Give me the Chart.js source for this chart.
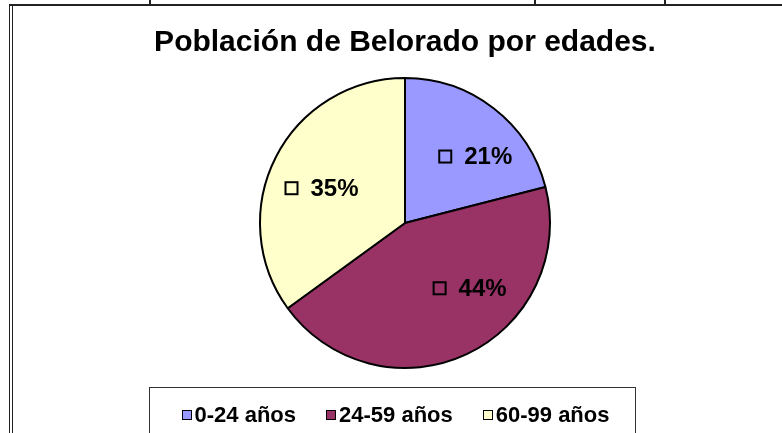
<!DOCTYPE html>
<html>
<head>
<meta charset="utf-8">
<script src="https://cdn.jsdelivr.net/npm/chart.js@4"></script>
<style>
  html, body { margin:0; padding:0; background:#fff; }
  #page { position:relative; width:782px; height:433px; overflow:hidden; font-family:"Liberation Sans", Arial, sans-serif; }
  #chart { position:absolute; left:0; top:0; }
  .edge { position:absolute; background:#222; }
  #legend-box {
    position:absolute; left:149px; top:387px; width:487px; height:70px;
    border:1px solid #333; box-sizing:border-box;
    display:flex; justify-content:center; align-items:flex-start; gap:30px;
    padding-top:16px; padding-left:6px;
  }
  .leg-item { display:flex; align-items:center; font-weight:bold; font-size:22px; color:#000; line-height:22px; }
  .leg-key { width:8px; height:8px; border:1.5px solid #000; margin-right:3px; }
</style>
</head>
<body>
<div id="page">
  <canvas id="chart" width="782" height="433"></canvas>
  <!-- bordes recortados de la hoja -->
  <div class="edge" style="left:9px; top:4px; width:1px; height:429px;"></div>
  <div class="edge" style="left:12px; top:6px; width:1px; height:427px;"></div>
  <div class="edge" style="left:9px; top:4px; width:773px; height:2px;"></div>
  <div class="edge" style="left:149px; top:0; width:2px; height:5px;"></div>
  <div class="edge" style="left:534px; top:0; width:2px; height:5px;"></div>
  <div class="edge" style="left:664px; top:0; width:2px; height:5px;"></div>
  <div id="legend-box"></div>
</div>
<script>
// ====================== DATOS ======================
const categories = ['0-24 años', '24-59 años', '60-99 años'];
const percentages = [21, 44, 35];
const sliceColors = ['#9999FF', '#993366', '#FFFFCC'];
const chartTitle = 'Población de Belorado por edades.';

// ====================== ETIQUETAS DENTRO DE LA TARTA ======================
const pieLabels = {
  id:'pieLabels',
  afterDatasetsDraw(chart, args, opts){
    const ctx = chart.ctx;
    const meta = chart.getDatasetMeta(0);
    const values = chart.data.datasets[0].data;
    const total = values.reduce((s,v)=>s+v,0);
    ctx.save();
    ctx.font = 'bold 24px "Liberation Sans", Arial, sans-serif';
    ctx.textBaseline = 'middle';
    ctx.textAlign = 'left';
    meta.data.forEach((arc,i)=>{
      const p = arc.getProps(['x','y','startAngle','endAngle','outerRadius'], true);
      const mid = (p.startAngle + p.endAngle)/2;
      const r = p.outerRadius * opts.radiusFrac;
      const shift = opts.shift[i] || [0,0];
      const cx = p.x + Math.cos(mid)*r + shift[0];
      const cy = p.y + Math.sin(mid)*r + shift[1];
      const txt = Math.round(values[i]/total*100) + '%';
      const tw = ctx.measureText(txt).width;
      const full = 12 + 13 + tw;
      const left = cx - full/2;
      ctx.fillStyle = sliceColors[i];
      ctx.fillRect(left, cy-6, 12, 12);
      ctx.lineWidth = 2;
      ctx.strokeStyle = '#000';
      ctx.strokeRect(left, cy-6, 12, 12);
      ctx.fillStyle = '#000';
      ctx.fillText(txt, left + 25, cy + 1);
    });
    ctx.restore();
  }
};

const ctx = document.getElementById('chart').getContext('2d');
new Chart(ctx,{
  type:'pie',
  data:{
    labels:categories,
    datasets:[{ data:percentages, backgroundColor:sliceColors, borderColor:'#000', borderWidth:2 }]
  },
  options:{
    responsive:false,
    animation:false,
    radius:145,
    layout:{ padding:{ left:105, right:77, top:0, bottom:57 } },
    plugins:{
      legend:{ display:false },
      tooltip:{ enabled:false },
      title:{
        display:true, text:chartTitle, color:'#000',
        font:{ family:'"Liberation Sans", Arial, sans-serif', size:30, weight:'bold' },
        padding:{ top:25, bottom:9 }
      },
      pieLabels:{ radiusFrac:0.65, shift:[[13,8],[25,-20],[1,8]] }
    }
  },
  plugins:[pieLabels]
});

// ====================== LEYENDA ======================
const legendBox = document.getElementById('legend-box');
legendBox.innerHTML = categories.map((c,i)=>
  `<div class='leg-item'><div class='leg-key' style='background:${sliceColors[i]}'></div>${c}</div>`
).join('');
</script>
</body>
</html>
